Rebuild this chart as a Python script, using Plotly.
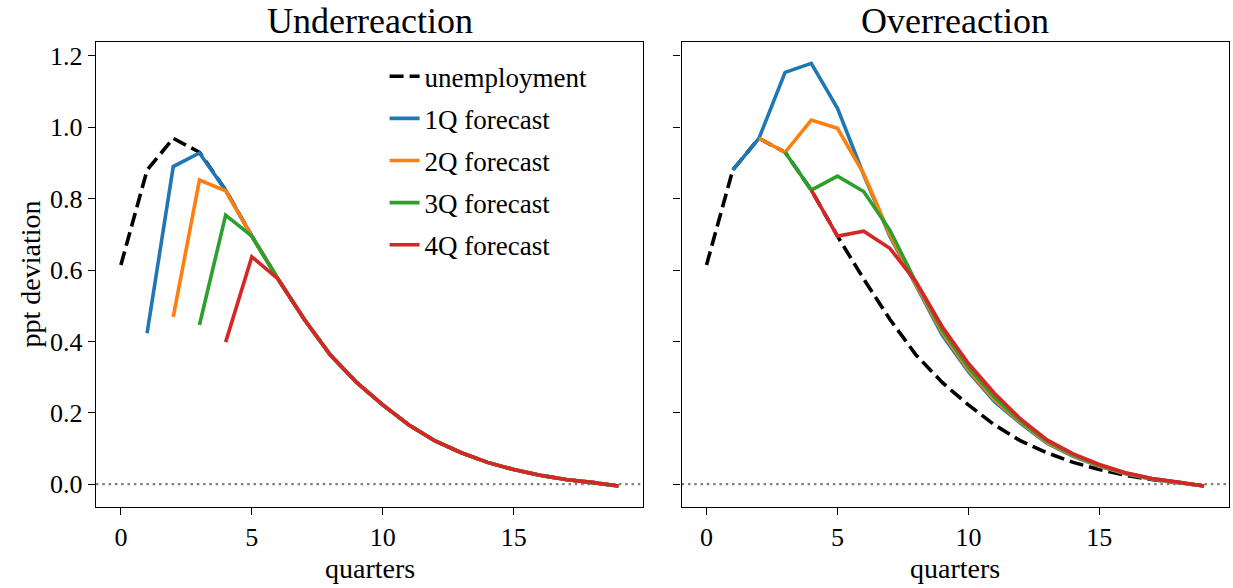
import plotly.graph_objects as go
from plotly.subplots import make_subplots

# ---------------- data ----------------
quarters = list(range(20))
unemployment = [0.614, 0.880, 0.969, 0.930, 0.824, 0.695, 0.575, 0.462, 0.362, 0.285,
                0.222, 0.166, 0.121, 0.088, 0.061, 0.041, 0.025, 0.013, 0.005, -0.005]

# Underreaction forecasts (h-quarter forecast starts at quarter h)
under_1q = [0.423, 0.890, 0.928, 0.824, 0.695, 0.575, 0.462, 0.362, 0.285, 0.222,
            0.166, 0.121, 0.088, 0.061, 0.041, 0.025, 0.013, 0.005, -0.005]
under_2q = [0.469, 0.852, 0.822, 0.695, 0.575, 0.462, 0.362, 0.285, 0.222,
            0.166, 0.121, 0.088, 0.061, 0.041, 0.025, 0.013, 0.005, -0.005]
under_3q = [0.446, 0.754, 0.695, 0.575, 0.462, 0.362, 0.285, 0.222,
            0.166, 0.121, 0.088, 0.061, 0.041, 0.025, 0.013, 0.005, -0.005]
under_4q = [0.398, 0.637, 0.575, 0.462, 0.362, 0.285, 0.222,
            0.166, 0.121, 0.088, 0.061, 0.041, 0.025, 0.013, 0.005, -0.005]

# Overreaction forecasts
over_1q = [0.880, 0.969, 1.154, 1.179, 1.053, 0.867, 0.695, 0.555, 0.418, 0.315,
           0.231, 0.170, 0.115, 0.078, 0.050, 0.029, 0.014, 0.004, -0.005]
over_2q = [0.969, 0.930, 1.020, 0.997, 0.870, 0.700, 0.560, 0.425, 0.320,
           0.236, 0.173, 0.117, 0.080, 0.051, 0.030, 0.015, 0.005, -0.005]
over_3q = [0.930, 0.824, 0.863, 0.820, 0.712, 0.565, 0.432, 0.327,
           0.243, 0.176, 0.120, 0.082, 0.053, 0.031, 0.016, 0.005, -0.005]
over_4q = [0.824, 0.695, 0.709, 0.661, 0.567, 0.441, 0.338,
           0.254, 0.182, 0.124, 0.085, 0.055, 0.032, 0.016, 0.006, -0.005]

horizons = [1, 2, 3, 4]
labels = ["1Q forecast", "2Q forecast", "3Q forecast", "4Q forecast"]
colors = ["#1f77b4", "#ff7f0e", "#2ca02c", "#d62728"]
panel_titles = ["Underreaction", "Overreaction"]
x_ticks = [0, 5, 10, 15]
y_ticks = [0.0, 0.2, 0.4, 0.6, 0.8, 1.0, 1.2]

FONT = "Liberation Serif"
LW = 3.6

fig = make_subplots(rows=1, cols=2, shared_yaxes=True, horizontal_spacing=0.034)

panels = [[under_1q, under_2q, under_3q, under_4q],
          [over_1q, over_2q, over_3q, over_4q]]

for ci, series in enumerate(panels, start=1):
    fig.add_trace(go.Scatter(x=quarters, y=unemployment, mode="lines",
                             name="unemployment", legendgroup="unemployment",
                             showlegend=(ci == 1),
                             line=dict(color="black", width=LW, dash="14px,6px")),
                  row=1, col=ci)
    for h, lab, col, ys in zip(horizons, labels, colors, series):
        fig.add_trace(go.Scatter(x=quarters[h:], y=ys, mode="lines",
                                 name=lab, legendgroup=lab, showlegend=(ci == 1),
                                 line=dict(color=col, width=LW)),
                      row=1, col=ci)
    fig.add_hline(y=0, line=dict(color="#808080", width=2.2, dash="2.5px,3.8px"),
                  row=1, col=ci, layer="below")

axis_common = dict(showline=True, mirror=True, linecolor="black", linewidth=1.4,
                   ticks="outside", ticklen=7, tickwidth=1.4, tickcolor="black",
                   showgrid=False, zeroline=False, automargin=False,
                   tickfont=dict(family=FONT, size=26, color="black"))

for ci in (1, 2):
    fig.update_xaxes(axis_common, range=[-0.95, 19.95], tickvals=x_ticks, row=1, col=ci)
    fig.update_yaxes(axis_common, range=[-0.064, 1.239], tickvals=y_ticks,
                     tickformat=".1f", row=1, col=ci)

fig.update_yaxes(showticklabels=False, row=1, col=2)

dom_left = [0.0, 0.4831]
dom_right = [0.5169, 1.0]
fig.update_layout(xaxis=dict(domain=dom_left), xaxis2=dict(domain=dom_right))

centers = [(dom_left[0] + dom_left[1]) / 2, (dom_right[0] + dom_right[1]) / 2]
for c, t in zip(centers, panel_titles):
    fig.add_annotation(text=t, x=c, y=1.0, xref="paper", yref="paper",
                       xanchor="center", yanchor="bottom", yshift=-1, showarrow=False,
                       font=dict(family=FONT, size=36, color="black"))
    fig.add_annotation(text="quarters", x=c, y=0.0, xref="paper", yref="paper",
                       xanchor="center", yanchor="top", yshift=-44, showarrow=False,
                       font=dict(family=FONT, size=28, color="black"))

fig.add_annotation(text="ppt deviation", x=0.0, y=0.5, xref="paper", yref="paper",
                   xanchor="center", yanchor="middle", xshift=-66, textangle=-90,
                   showarrow=False, font=dict(family=FONT, size=28, color="black"))

fig.update_layout(
    width=1233, height=588,
    margin=dict(l=96, r=4, t=42, b=81),
    paper_bgcolor="white", plot_bgcolor="white",
    font=dict(family=FONT, color="black"),
    showlegend=True,
    legend=dict(x=0.2547, y=0.978, xanchor="left", yanchor="top",
                bgcolor="rgba(0,0,0,0)", borderwidth=0,
                font=dict(family=FONT, size=27, color="black"),
                tracegroupgap=4, itemwidth=30),
)

# remove the default 8px page margin so the figure fills the window exactly
fig.write_html("out.html",
               config={"displayModeBar": False},
               post_script="document.body.style.margin='0';document.body.style.overflow='hidden';")
